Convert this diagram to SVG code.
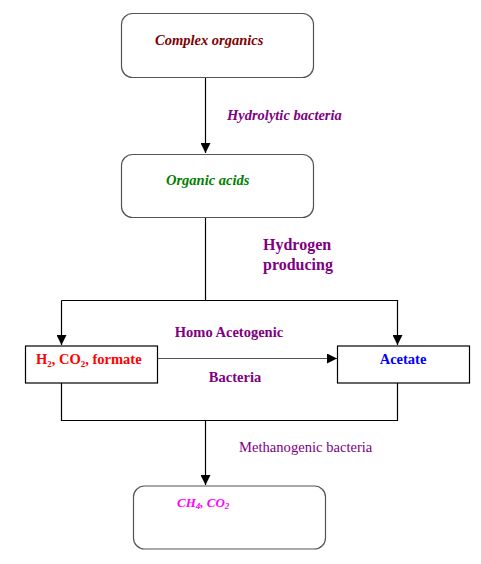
<svg xmlns="http://www.w3.org/2000/svg" width="481" height="564" viewBox="0 0 481 564">
<defs>
<marker id="ah" viewBox="0 0 10 10" refX="10" refY="5" markerWidth="10" markerHeight="10" markerUnits="userSpaceOnUse" orient="auto">
<path d="M0,0 L10,5 L0,10 z" fill="#000"/>
</marker>
</defs>
<style>
text{font-family:"Liberation Serif","Times New Roman",serif;}
.rbox{fill:#fff;stroke:#555;stroke-width:1.2;}
.box{fill:#fff;stroke:#000;stroke-width:1.2;}
.ln{fill:none;stroke:#000;stroke-width:1.2;}
.bi{font-weight:bold;font-style:italic;font-size:14.5px;}
.b{font-weight:bold;font-size:14.5px;}
.pur{fill:#800080;}
</style>
<rect width="481" height="564" fill="#fff"/>
<g id="connectors">
<line class="ln" x1="205.5" y1="77" x2="205.5" y2="153" marker-end="url(#ah)"/>
<polyline class="ln" points="205.5,217 205.5,300.5"/>
<polyline class="ln" points="61.5,300.5 397.5,300.5 397.5,345" marker-end="url(#ah)"/>
<line class="ln" x1="61.5" y1="300.5" x2="61.5" y2="345" marker-end="url(#ah)"/>
<line class="ln" x1="157" y1="358.5" x2="337" y2="358.5" marker-end="url(#ah)" style="stroke:#555"/>
<polyline class="ln" points="61.5,383 61.5,420.5 397.5,420.5 397.5,383"/>
<line class="ln" x1="205.5" y1="420.5" x2="205.5" y2="485" marker-end="url(#ah)"/>
<text class="bi pur" x="227" y="120">Hydrolytic bacteria</text>
<text class="pur" x="263" y="250" style="font-weight:bold;font-size:16px">Hydrogen</text>
<text class="pur" x="263" y="270" style="font-weight:bold;font-size:16px">producing</text>
<text class="b pur" x="229" y="337" text-anchor="middle">Homo Acetogenic</text>
<text class="b pur" x="235" y="382" text-anchor="middle">Bacteria</text>
<text class="pur" x="239" y="452" style="font-size:14.6px">Methanogenic bacteria</text>
</g>
<g id="complex">
<rect class="rbox" x="121.5" y="13.5" width="192" height="64" rx="11"/>
<text class="bi" x="155" y="45" fill="#800000">Complex organics</text>
</g>
<g id="organic">
<rect class="rbox" x="121.5" y="154.5" width="192" height="63" rx="11"/>
<text class="bi" x="166" y="185" fill="#008000">Organic acids</text>
</g>
<g id="h2">
<rect class="box" x="25.5" y="346" width="132" height="37"/>
<text class="b" x="36" y="364" fill="#ff0000">H<tspan font-size="9" dy="3">2</tspan><tspan dy="-3">, CO</tspan><tspan font-size="9" dy="3">2</tspan><tspan dy="-3">, formate</tspan></text>
</g>
<g id="acetate">
<rect class="box" x="337.5" y="346" width="132" height="37"/>
<text class="b" x="403" y="364" fill="#0000ff" text-anchor="middle">Acetate</text>
</g>
<g id="ch4">
<rect class="rbox" x="133.5" y="486" width="192" height="63" rx="11"/>
<text x="177" y="507" fill="#ff00ff" style="font-weight:bold;font-style:italic;font-size:13px">CH<tspan font-size="9" dy="2">4</tspan><tspan dy="-2">, CO</tspan><tspan font-size="9" dy="2">2</tspan></text>
</g>
</svg>
